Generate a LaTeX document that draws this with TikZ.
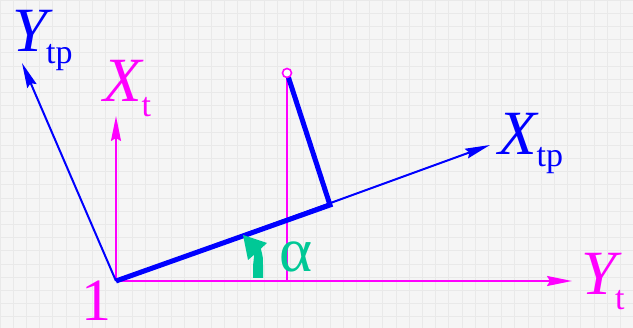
\documentclass[tikz,border=0pt]{standalone}
\usepackage{fontspec}
\setmainfont{Liberation Serif}
\usetikzlibrary{arrows.meta}
\definecolor{mag}{RGB}{255,0,255}
\definecolor{blu}{RGB}{0,0,255}
\definecolor{grn}{RGB}{0,200,150}
\definecolor{bgc}{RGB}{245,245,245}
\definecolor{gridc}{RGB}{233,233,233}
\begin{document}
\begin{tikzpicture}[x=1pt,y=-1pt,
  axis/.style={line width=2pt, -{Stealth[length=25pt,width=10pt,inset=3pt]}},
  thick blue/.style={blu, line width=5pt, line join=miter, line cap=butt},
  lbl/.style={inner sep=0pt, anchor=base west, font=\fontsize{63}{63}\selectfont}]
\fill[bgc] (0,0) rectangle (633,328);
\useasboundingbox (0,0) rectangle (633,328);
\foreach \i in {0,...,48} \draw[gridc, line width=0.7pt] (\i*13.2,0) -- (\i*13.2,328);
\foreach \j in {0,...,25} \draw[gridc, line width=0.7pt] (0,\j*13.2) -- (633,\j*13.2);

\coordinate (O) at (116,281);
\coordinate (Yt) at (572,281);
\coordinate (Xt) at (116,116);
\coordinate (Xtp) at (490,145);
\coordinate (Ytp) at (22,63);
\coordinate (F) at (330,205);
\coordinate (P) at (287,73);
\coordinate (Pf) at (287,281);

% magenta frame
\draw[mag, axis] (O) -- (Yt);
\draw[mag, axis] (O) -- (Xt);
\draw[mag, line width=2pt] (P) -- (Pf);
% blue frame
\draw[blu, axis] (O) -- (Xtp);
\draw[blu, axis] (O) -- (Ytp);
\draw[thick blue] (O) -- (F) -- (P);
\node[draw=mag, line width=1.6pt, fill=white, circle, minimum size=9pt, inner sep=0pt] (pt) at (P) {};

% green angle arrow
\fill[grn] (253,278) -- (263,278) -- (263,266) .. controls (263,257) .. (260.8,248.7)
  -- (267,243) -- (243,235) -- (248,260) -- (254.2,254.7) .. controls (253,260) .. (253,266) -- cycle;

% labels
\node[lbl, text=blu] (lYtp) at (12,52) {\itshape Y\kern-1pt\raisebox{-12pt}{\upshape\fontsize{34}{34}\selectfont tp}};
\node[lbl, text=mag] (lXt) at (103,102) {\itshape X\kern0pt\raisebox{-15pt}{\upshape\fontsize{34}{34}\selectfont t}};
\node[lbl, text=blu] (lXtp) at (498,155) {\itshape X\kern0pt\raisebox{-12pt}{\upshape\fontsize{34}{34}\selectfont tp}};
\node[lbl, text=mag] (lYt) at (581,295) {\itshape Y\kern-1pt\raisebox{-15pt}{\upshape\fontsize{34}{34}\selectfont t}};
\node[lbl, text=mag, font=\fontsize{60}{60}\selectfont] (one) at (81,321) {1};
\node[lbl, text=grn] (alpha) at (279,272) {α};
\end{tikzpicture}
\end{document}
